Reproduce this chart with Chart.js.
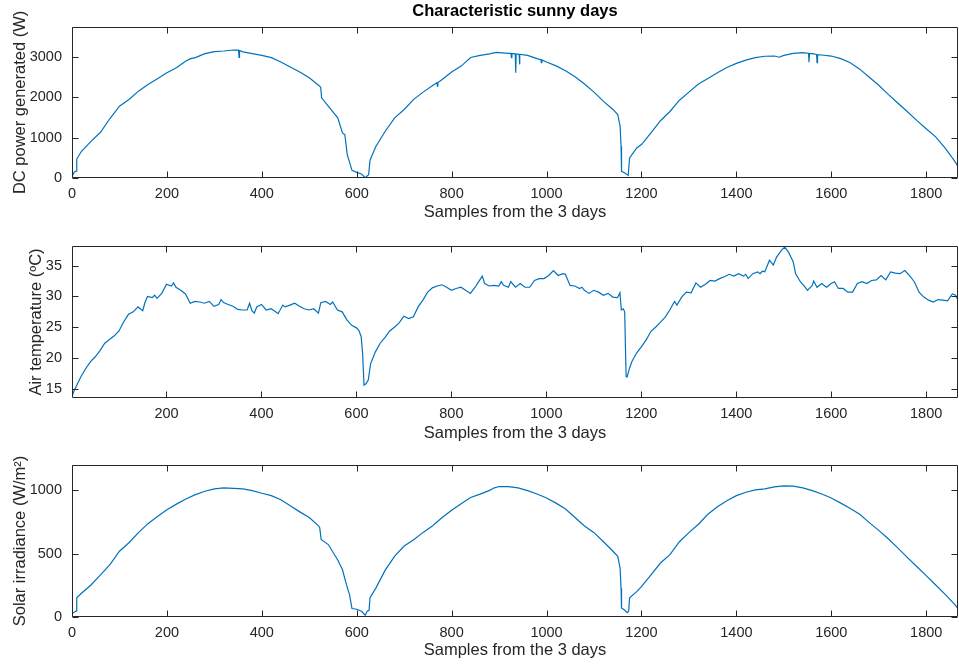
<!DOCTYPE html>
<html>
<head>
<meta charset="utf-8">
<script src="https://cdn.jsdelivr.net/npm/chart.js@4.4.1/dist/chart.umd.min.js"></script>
<style>
  html, body { margin: 0; padding: 0; background: #fff; }
  #wrap { position: relative; width: 959px; height: 665px; }
  canvas { position: absolute; left: 0; }
</style>
</head>
<body>
<div id="wrap">
  <canvas id="power-chart" width="959" height="222" style="top:0"></canvas>
  <canvas id="temp-chart" width="959" height="222" style="top:222px"></canvas>
  <canvas id="irr-chart" width="959" height="221" style="top:444px"></canvas>
</div>
<script>
const LINE_COLOR = '#0072BD';
const AXIS_COLOR = '#262626';
const FONT_FAMILY = '"Liberation Sans", Arial, Helvetica, sans-serif';
const TICK_LEN = 6;

const TITLE = 'Characteristic sunny days';
const X_LABEL = 'Samples from the 3 days';
const X_MAX = 1867;

// tick positions
const X_TICKS = [0, 200, 400, 600, 800, 1000, 1200, 1400, 1600, 1800];
const X_TICKS_TEMP = [200, 400, 600, 800, 1000, 1200, 1400, 1600, 1800];
const POWER_TICKS = [0, 1000, 2000, 3000];
const TEMP_TICKS = [15, 20, 25, 30, 35];
const IRR_TICKS = [0, 500, 1000];

// DC power (W)
const POWER_SAMPLES = [0, 5, 9, 10, 20, 40, 60, 80, 100, 120, 140, 160, 180, 200, 220, 240, 250, 260, 280, 300,
    320, 340, 351, 352, 353, 360, 380, 400, 420, 440, 460, 480, 500, 520, 524, 526, 540, 560, 570, 575,
    580, 590, 600, 610, 618, 625, 628, 640, 660, 680, 700, 720, 740, 760, 769, 770, 771, 780, 800, 820,
    840, 860, 880, 894, 900, 920, 925, 926, 927, 934, 935, 936, 942, 943, 944, 960, 980, 988, 989, 990,
    1000, 1020, 1040, 1060, 1080, 1100, 1120, 1140, 1150, 1155, 1157, 1158, 1165, 1172, 1175, 1180, 1190,
    1200, 1220, 1240, 1260, 1280, 1300, 1320, 1340, 1360, 1380, 1400, 1420, 1440, 1460, 1480, 1490, 1500,
    1520, 1540, 1552, 1553, 1554, 1560, 1569, 1570, 1571, 1580, 1600, 1620, 1640, 1660, 1680, 1700, 1720,
    1740, 1760, 1780, 1800, 1820, 1840, 1860, 1867];
const POWER_VALUES = [40, 150, 170, 470, 662, 910, 1134, 1475, 1781, 1948, 2154, 2321, 2463, 2612, 2736, 2900, 2960, 2985, 3085, 3134,
    3150, 3174, 3170, 2990, 3165, 3130, 3085, 3042, 2985, 2876, 2751, 2627, 2488, 2296, 2250, 1990, 1781, 1493, 1119, 1070,
    580, 189, 140, 100, 8, 80, 440, 775, 1160, 1493, 1700, 1950, 2130, 2296, 2360, 2280, 2365, 2445, 2627, 2776,
    2990, 3040, 3080, 3115, 3110, 3092, 3090, 2985, 3088, 3080, 2612, 3078, 3070, 2818, 3068, 3042, 2960, 2935, 2860, 2930,
    2876, 2780, 2660, 2510, 2330, 2130, 1900, 1700, 1575, 1284, 786, 164, 124, 65, 498, 580, 746,
    828, 1119, 1420, 1650, 1930, 2130, 2330, 2470, 2610, 2740, 2843, 2925, 2985, 3020, 3025, 2995, 3040,
    3092, 3109, 3095, 2870, 3090, 3085, 3065, 2860, 3060, 3050, 3025, 2960, 2860, 2700, 2500, 2300, 2075,
    1860, 1650, 1430, 1220, 1020, 740, 420, 280];

// air temperature (ºC)
const TEMP_SAMPLES = [1, 5, 10, 20, 30, 40, 50, 60, 70, 80, 90, 100, 110, 120, 130, 140, 150, 155, 160, 170,
    175, 180, 190, 200, 210, 215, 220, 230, 240, 250, 260, 270, 280, 290, 300, 310, 315, 320, 330, 340,
    350, 360, 370, 375, 380, 385, 390, 400, 410, 420, 430, 435, 445, 450, 460, 470, 480, 490, 500, 510,
    520, 525, 535, 545, 550, 560, 570, 580, 590, 600, 605, 610, 613, 616, 620, 625, 630, 640, 650, 660,
    670, 680, 690, 700, 710, 720, 730, 740, 750, 760, 770, 780, 790, 800, 810, 820, 830, 840, 850, 860,
    865, 870, 880, 890, 900, 905, 910, 920, 925, 935, 945, 955, 965, 975, 985, 995, 1005, 1015, 1025, 1035,
    1040, 1050, 1060, 1070, 1075, 1080, 1090, 1100, 1110, 1120, 1130, 1140, 1150, 1155, 1158, 1162, 1165, 1168, 1170, 1175,
    1180, 1190, 1200, 1210, 1220, 1230, 1240, 1250, 1260, 1270, 1275, 1285, 1295, 1305, 1315, 1325, 1335, 1345, 1355, 1365,
    1375, 1385, 1395, 1405, 1415, 1420, 1425, 1435, 1445, 1450, 1455, 1460, 1470, 1478, 1485, 1495, 1502, 1510, 1515, 1520,
    1525, 1535, 1545, 1550, 1560, 1563, 1570, 1580, 1590, 1600, 1607, 1615, 1625, 1635, 1645, 1655, 1665, 1675, 1685, 1695,
    1705, 1715, 1725, 1735, 1745, 1755, 1765, 1775, 1785, 1795, 1805, 1815, 1825, 1835, 1845, 1855, 1862, 1867];
const TEMP_VALUES = [13.75, 14.6, 15.4, 17.0, 18.3, 19.4, 20.2, 21.2, 22.4, 23.0, 23.6, 24.4, 25.9, 27.1, 27.5, 28.3, 27.7, 29.1, 30.0, 29.8,
    30.2, 29.7, 30.5, 32.0, 31.7, 32.2, 31.5, 31.0, 30.4, 28.9, 29.2, 29.1, 28.9, 29.2, 28.4, 28.7, 29.5, 29.0, 28.7, 28.4,
    27.9, 27.8, 27.8, 28.9, 27.7, 27.3, 28.3, 28.7, 27.8, 28.0, 27.5, 27.2, 28.6, 28.3, 28.6, 28.9, 28.4, 28.0, 27.8, 28.0,
    27.3, 29.0, 29.2, 28.7, 29.1, 27.8, 27.5, 26.2, 25.3, 24.9, 24.5, 23.5, 20.8, 15.6, 15.8, 16.4, 19.1, 21.0, 22.4, 23.3,
    24.4, 25.0, 25.7, 26.8, 26.4, 26.7, 28.3, 29.4, 30.7, 31.4, 31.7, 31.9, 31.5, 31.0, 31.3, 31.5, 31.0, 30.5, 31.5, 32.7,
    33.3, 32.1, 31.7, 31.8, 31.7, 32.4, 31.8, 31.5, 32.4, 31.5, 32.1, 31.5, 31.5, 32.6, 32.9, 32.9, 33.4, 34.2, 33.4, 33.7,
    33.6, 31.8, 31.7, 31.3, 31.5, 31.0, 30.5, 31.0, 30.7, 30.2, 30.5, 29.9, 29.8, 30.6, 27.8, 28.0, 27.5, 17.0, 16.9, 18.3,
    19.4, 20.8, 21.8, 22.9, 24.3, 25.0, 25.8, 26.6, 27.8, 29.2, 28.6, 29.9, 30.7, 30.6, 32.2, 31.5, 32.0, 32.6, 32.5, 32.9,
    33.2, 33.6, 33.3, 33.7, 33.3, 33.6, 32.9, 33.7, 34.0, 33.7, 34.1, 34.0, 35.9, 35.1, 36.4, 37.5, 38.0, 37.2, 36.4, 35.6,
    33.7, 32.4, 31.5, 31.0, 31.8, 32.5, 31.5, 32.1, 31.5, 32.1, 32.4, 31.3, 31.3, 30.7, 30.7, 32.1, 32.4, 32.1, 32.6, 32.7,
    33.4, 32.7, 34.0, 33.8, 33.7, 34.2, 33.4, 32.4, 30.7, 29.9, 29.4, 29.1, 29.5, 29.4, 29.3, 30.4, 30.2, 29.4];

// solar irradiance (W/m2)
const IRR_SAMPLES = [0, 8, 9, 10, 20, 40, 60, 80, 100, 120, 140, 160, 180, 200, 220, 240, 260, 280, 300, 320,
    340, 360, 380, 400, 420, 440, 460, 480, 500, 520, 522, 525, 540, 560, 570, 578, 585, 590, 600, 610,
    618, 622, 626, 628, 640, 660, 680, 700, 720, 740, 760, 780, 800, 820, 840, 860, 880, 890, 900, 920,
    940, 960, 980, 1000, 1020, 1040, 1060, 1080, 1100, 1120, 1140, 1150, 1155, 1157, 1158, 1165, 1170, 1173, 1175, 1190,
    1200, 1220, 1240, 1260, 1280, 1300, 1320, 1340, 1360, 1380, 1400, 1420, 1440, 1460, 1480, 1500, 1520, 1540, 1560, 1580,
    1600, 1620, 1640, 1660, 1680, 1700, 1720, 1740, 1760, 1780, 1800, 1820, 1840, 1860, 1867];
const IRR_VALUES = [27, 45, 48, 152, 187, 253, 333, 413, 519, 586, 666, 737, 793, 846, 891, 931, 966, 993, 1011, 1019,
    1016, 1011, 998, 977, 958, 926, 878, 830, 785, 718, 705, 612, 572, 450, 373, 259, 173, 67, 61, 45,
    14, 45, 53, 152, 226, 370, 480, 560, 610, 668, 720, 785, 842, 894, 943, 970, 1000, 1020, 1030, 1030,
    1019, 998, 971, 939, 899, 852, 785, 718, 666, 594, 519, 479, 386, 226, 72, 53, 35, 45, 152, 200,
    240, 333, 426, 492, 594, 666, 732, 811, 870, 918, 958, 985, 1003, 1011, 1027, 1035, 1033, 1019, 998, 971,
    939, 899, 857, 811, 745, 684, 618, 546, 471, 399, 327, 253, 179, 99, 67];

function toPoints(xs, ys) {
    return xs.map((x, i) => ({ x: x, y: ys[i] }));
}

function font(size, weight) {
    return { family: FONT_FAMILY, size: size, weight: weight || 'normal' };
}

function fixedTicks(values) {
    return scale => { scale.ticks = values.map(v => ({ value: v })); };
}

// box around the plot with inward tick marks on all four sides
function getBoxPlugin() {
    return {
        id: 'boxAxes',
        afterDraw(chart) {
            const { ctx, chartArea: a, scales: { x, y } } = chart;
            const left = Math.round(a.left) + 0.5;
            const right = Math.round(a.right) - 0.5;
            const top = Math.round(a.top) + 0.5;
            const bottom = Math.round(a.bottom) - 0.5;

            ctx.save();
            ctx.strokeStyle = AXIS_COLOR;
            ctx.lineWidth = 1;
            ctx.beginPath();
            ctx.rect(left, top, right - left, bottom - top);

            x.ticks.forEach(t => {
                const px = Math.round(x.getPixelForValue(t.value)) + 0.5;
                ctx.moveTo(px, bottom);
                ctx.lineTo(px, bottom - TICK_LEN);
                ctx.moveTo(px, top);
                ctx.lineTo(px, top + TICK_LEN);
            });
            y.ticks.forEach(t => {
                const py = Math.round(y.getPixelForValue(t.value)) + 0.5;
                ctx.moveTo(left, py);
                ctx.lineTo(left + TICK_LEN, py);
                ctx.moveTo(right, py);
                ctx.lineTo(right - TICK_LEN, py);
            });
            ctx.stroke();
            ctx.restore();
        }
    };
}

function getLineConfig(o) {
    return {
        type: 'line',
        data: {
            datasets: [{
                data: toPoints(o.samples, o.values),
                borderColor: LINE_COLOR,
                borderWidth: 1.2,
                pointRadius: 0,
                tension: 0,
                fill: false
            }]
        },
        options: {
            responsive: false,
            animation: false,
            layout: { padding: { top: o.topPad, right: 1, left: 0, bottom: 0 } },
            plugins: {
                legend: { display: false },
                tooltip: { enabled: false },
                title: o.title ? {
                    display: true,
                    text: o.title,
                    color: '#000',
                    fullSize: false,
                    font: font(16.5, 'bold'),
                    padding: { top: 2, bottom: 5 }
                } : { display: false }
            },
            scales: {
                x: {
                    type: 'linear',
                    min: o.xMin,
                    max: X_MAX,
                    grid: { display: false, drawTicks: false },
                    border: { display: false },
                    afterBuildTicks: fixedTicks(o.xTicks),
                    ticks: {
                        autoSkip: false,
                        maxRotation: 0,
                        padding: 7,
                        color: AXIS_COLOR,
                        font: font(14.5),
                        callback: v => String(v)
                    },
                    title: {
                        display: true,
                        text: X_LABEL,
                        color: AXIS_COLOR,
                        font: font(16.5),
                        padding: { top: 0, bottom: o.xTitlePad }
                    },
                    afterFit: s => { s.height = o.xAxisHeight; }
                },
                y: {
                    min: o.yMin,
                    max: o.yMax,
                    grid: { display: false, drawTicks: false },
                    border: { display: false },
                    afterBuildTicks: fixedTicks(o.yTicks),
                    ticks: {
                        autoSkip: false,
                        padding: 10,
                        color: AXIS_COLOR,
                        font: font(14.5),
                        callback: v => String(v)
                    },
                    title: {
                        display: true,
                        text: o.yTitle,
                        color: AXIS_COLOR,
                        font: font(16.5),
                        padding: { top: o.yTitlePad, bottom: 0 }
                    },
                    afterFit: s => { s.width = 72; }
                }
            }
        },
        plugins: [getBoxPlugin()]
    };
}

new Chart(document.getElementById('power-chart'), getLineConfig({
    samples: POWER_SAMPLES, values: POWER_VALUES,
    title: TITLE, topPad: 0,
    xMin: 0, xTicks: X_TICKS,
    yMin: 0, yMax: 3750, yTicks: POWER_TICKS,
    yTitle: 'DC power generated (W)', yTitlePad: 10.6,
    xAxisHeight: 44, xTitlePad: 0
}));

new Chart(document.getElementById('temp-chart'), getLineConfig({
    samples: TEMP_SAMPLES, values: TEMP_VALUES,
    topPad: 24,
    xMin: 1, xTicks: X_TICKS_TEMP,
    yMin: 13.5, yMax: 38.2, yTicks: TEMP_TICKS,
    yTitle: 'Air temperature (ºC)', yTitlePad: 27,
    xAxisHeight: 46, xTitlePad: 1
}));

new Chart(document.getElementById('irr-chart'), getLineConfig({
    samples: IRR_SAMPLES, values: IRR_VALUES,
    topPad: 21,
    xMin: 0, xTicks: X_TICKS,
    yMin: 0, yMax: 1200, yTicks: IRR_TICKS,
    yTitle: 'Solar irradiance (W/m²)', yTitlePad: 11,
    xAxisHeight: 48, xTitlePad: 4.6
}));
</script>
</body>
</html>
